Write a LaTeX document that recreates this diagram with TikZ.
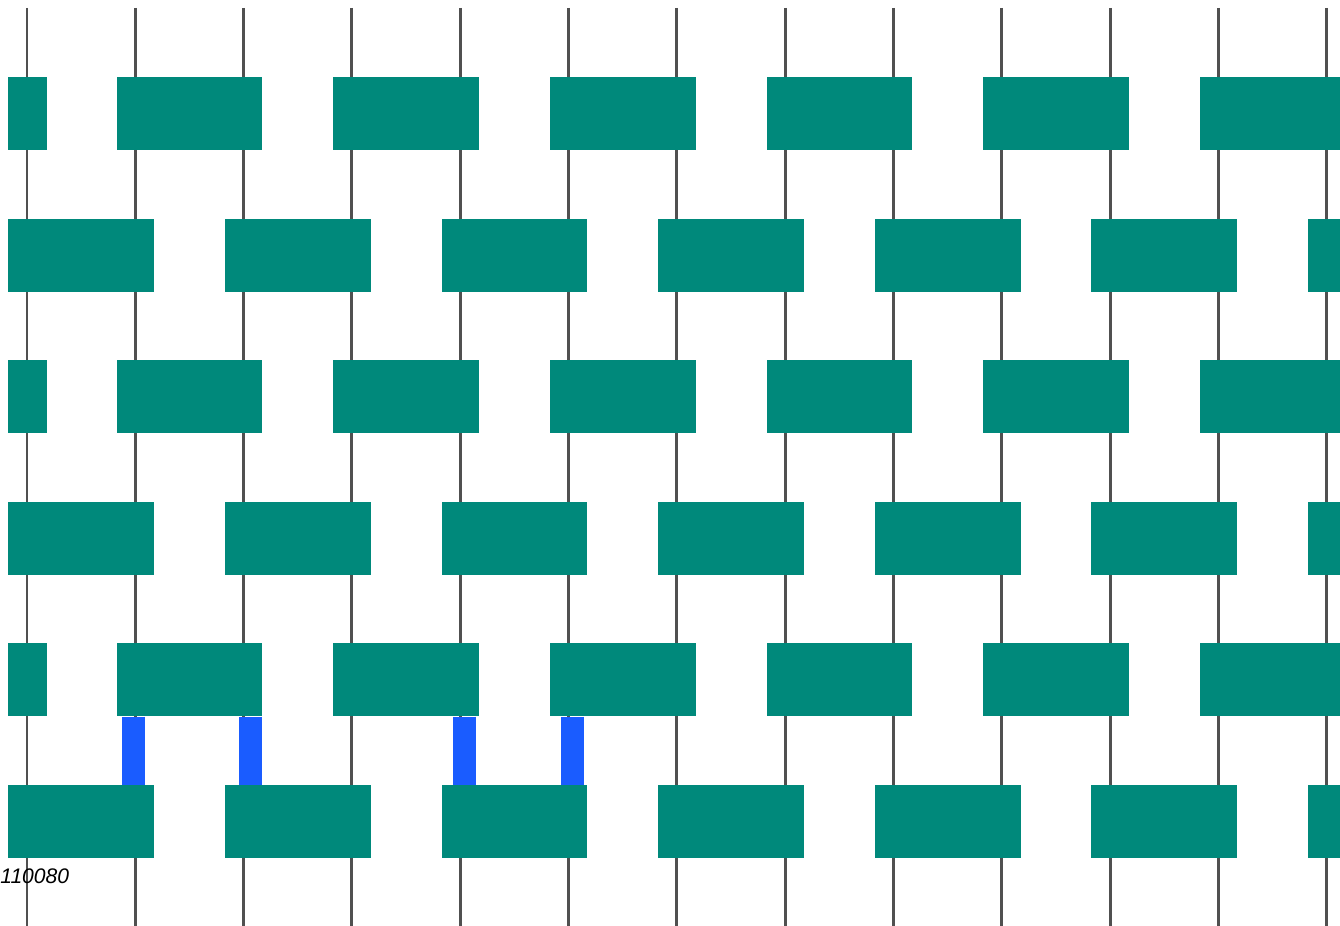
\documentclass[tikz,border=0pt]{standalone}
\usepackage{fontspec}
\setmainfont{Liberation Sans}
\usepackage{tikz}
\usepackage{xcolor}
\definecolor{wiregray}{HTML}{505050}
\definecolor{gateteal}{HTML}{00897B}
\definecolor{linkblue}{HTML}{1A5CFF}

\begin{document}
\begin{tikzpicture}[
      x=0.02cm,y=-0.02cm,
      wire/.style={draw=wiregray,line width=1.7pt},
      gate/.style={fill=gateteal,minimum width=2.92cm,minimum height=1.46cm,inner sep=0pt},
      stub/.style={gate,minimum width=0.78cm},
      link/.style={draw=linkblue,line width=0.46cm},
      tag/.style={font=\fontsize{12}{14}\selectfont\itshape,inner sep=0pt,anchor=west}
    ]
    \clip (0,0) rectangle (1340,926);
    \foreach \k in {0,...,12}{
      \coordinate (t\k) at ({27+108.33*\k},8);
      \coordinate (b\k) at ({27+108.33*\k},926);
      \draw[wire] (t\k) -- (b\k);
    }
    % odd layers
    \foreach \r in {1,3,5}{
      \node[stub] (g\r-0) at (27.5,{113.5+141.6*(\r-1)}) {};
      \foreach \k in {1,3,...,11}
        \node[gate] (g\r-\k) at ({81.17+108.33*\k},{113.5+141.6*(\r-1)}) {};
    }
    % even layers
    \foreach \r in {2,4,6}
      \foreach \k in {0,2,...,12}
        \node[gate] (g\r-\k) at ({81.17+108.33*\k},{113.5+141.6*(\r-1)}) {};

    \draw[link] ([xshift=-0.04cm]t1 |- g5-1.south) -- ([xshift=-0.04cm]t1 |- g6-0.north);
    \draw[link] ([xshift=0.14cm]t2 |- g5-1.south) -- ([xshift=0.14cm]t2 |- g6-2.north);
    \draw[link] ([xshift=0.08cm]t4 |- g5-3.south) -- ([xshift=0.08cm]t4 |- g6-4.north);
    \draw[link] ([xshift=0.08cm]t5 |- g5-5.south) -- ([xshift=0.08cm]t5 |- g6-4.north);

    \node[tag] (step) at (0,876) {110080};
  \end{tikzpicture}
\end{document}
